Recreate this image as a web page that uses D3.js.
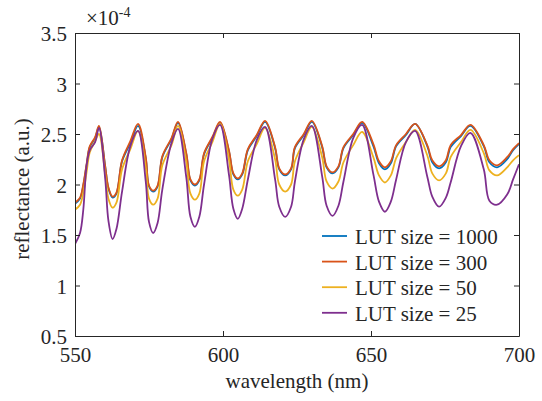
<!DOCTYPE html>
<html>
<head>
<meta charset="utf-8">
<script src="https://cdn.jsdelivr.net/npm/d3@7"></script>
<style>
  html, body { margin: 0; padding: 0; background: #fff; }
  svg { display: block; }
  text { font-family: "Liberation Serif", "Times New Roman", serif; fill: #262626; }
</style>
</head>
<body>
<svg id="chart" width="542" height="401"></svg>
<script>
// ---- data (reflectance in units of 1e-4) ----
const wavelength = [550, 551.7, 552.8, 553.9, 555, 556.8, 558.1, 560.2, 561.3, 562.7, 564.0,
  565.9, 568.7, 571.3, 573.9, 575.0, 576.4, 577.9, 579.5, 582.6, 584.8, 587.6, 589.0, 590.5, 592.0,
  593.6, 596.4, 599, 602, 603.5, 605, 606.5, 608.4, 611.4, 614.2, 617.6, 619.0, 621, 623.0,
  624.3, 627.3, 630, 633.5, 635.0, 637, 639.0, 640.7, 644, 647, 650.8, 652.7, 654.7, 656.7,
  658.5, 661.8, 664.9, 669, 670.7, 673, 675.3, 676.9, 680.4, 683.6, 688.1, 690,
  692.6, 696, 698, 700];

const lut1000 = [1.81, 1.86, 1.99, 2.19, 2.37, 2.46, 2.57, 2.18, 1.96, 1.87, 1.91,
  2.23, 2.41, 2.58, 2.26, 1.98, 1.93, 1.98, 2.27, 2.45, 2.61, 2.30, 2.04, 1.99, 2.04,
  2.30, 2.46, 2.61, 2.33, 2.10, 2.05, 2.10, 2.34, 2.48, 2.62, 2.36, 2.15, 2.09, 2.15,
  2.36, 2.49, 2.62, 2.37, 2.17, 2.11, 2.17, 2.36, 2.49, 2.61, 2.38, 2.21, 2.15, 2.21,
  2.38, 2.49, 2.60, 2.38, 2.22, 2.16, 2.22, 2.37, 2.48, 2.58, 2.38, 2.22,
  2.17, 2.25, 2.34, 2.40];

const lut300 = [1.82, 1.87, 2.00, 2.20, 2.38, 2.47, 2.58, 2.18, 1.97, 1.88, 1.92,
  2.24, 2.43, 2.60, 2.27, 1.99, 1.94, 1.99, 2.28, 2.46, 2.62, 2.31, 2.05, 2.00, 2.05,
  2.31, 2.47, 2.62, 2.34, 2.11, 2.06, 2.11, 2.35, 2.49, 2.63, 2.37, 2.16, 2.10, 2.16,
  2.37, 2.50, 2.63, 2.38, 2.18, 2.12, 2.18, 2.37, 2.50, 2.62, 2.40, 2.23, 2.17, 2.23,
  2.39, 2.50, 2.60, 2.39, 2.24, 2.18, 2.24, 2.39, 2.49, 2.59, 2.39, 2.24,
  2.19, 2.27, 2.35, 2.41];

const lut50 = [1.75, 1.80, 1.92, 2.12, 2.32, 2.43, 2.50, 2.10, 1.86, 1.77, 1.82,
  2.15, 2.35, 2.53, 2.17, 1.86, 1.80, 1.86, 2.19, 2.39, 2.58, 2.22, 1.91, 1.85, 1.91,
  2.23, 2.42, 2.60, 2.25, 1.95, 1.89, 1.95, 2.23, 2.40, 2.56, 2.25, 2.00, 1.93, 2.00,
  2.23, 2.42, 2.57, 2.27, 2.03, 1.96, 2.03, 2.22, 2.39, 2.52, 2.27, 2.09, 2.02, 2.09,
  2.26, 2.42, 2.54, 2.29, 2.11, 2.04, 2.11, 2.27, 2.42, 2.54, 2.31, 2.14,
  2.09, 2.17, 2.24, 2.29];

const lut25 = [1.41, 1.52, 1.75, 2.18, 2.34, 2.42, 2.56, 2.06, 1.64, 1.46, 1.56,
  1.93, 2.38, 2.53, 2.03, 1.63, 1.52, 1.62, 1.95, 2.41, 2.55, 2.07, 1.68, 1.58, 1.68,
  2.00, 2.45, 2.59, 2.10, 1.76, 1.66, 1.76, 2.05, 2.44, 2.57, 2.05, 1.78, 1.68, 1.78,
  2.03, 2.45, 2.58, 2.08, 1.79, 1.69, 1.79, 2.03, 2.46, 2.59, 2.10, 1.83, 1.73, 1.83,
  2.05, 2.42, 2.53, 2.08, 1.88, 1.78, 1.87, 2.02, 2.38, 2.51, 2.15, 1.84,
  1.80, 1.90, 2.05, 2.20];

const seriesNames = ["LUT size = 1000", "LUT size = 300", "LUT size = 50", "LUT size = 25"];
const seriesColors = ["#0072BD", "#D95319", "#EDB120", "#7E2F8E"];
const seriesValues = [lut1000, lut300, lut50, lut25];

const xTicks = [550, 600, 650, 700];
const yTicks = [0.5, 1, 1.5, 2, 2.5, 3, 3.5];
const yTickLabels = ["0.5", "1", "1.5", "2", "2.5", "3", "3.5"];
const exponentLabel = "-4";
const xLabel = "wavelength (nm)";
const yLabel = "reflectance (a.u.)";

// ---- layout ----
const L = 75, R = 519, T = 33, B = 336;
const svg = d3.select("#chart");
const x = d3.scaleLinear().domain([550, 700]).range([L, R]);
const y = d3.scaleLinear().domain([0.5, 3.5]).range([B, T]);
const axisColor = "#262626";
const fs = 21;

svg.append("defs").append("clipPath").attr("id", "clip")
  .append("rect").attr("x", L).attr("y", T).attr("width", R - L).attr("height", B - T);

// curves
const line = d3.line().x((d, i) => x(wavelength[i])).y(d => y(d)).curve(d3.curveCatmullRom.alpha(0.5));
const g = svg.append("g").attr("clip-path", "url(#clip)");
seriesValues.forEach((vals, k) => {
  g.append("path").datum(vals)
    .attr("d", line)
    .attr("fill", "none")
    .attr("stroke", seriesColors[k])
    .attr("stroke-width", 1.8)
    .attr("stroke-linejoin", "round");
});

// axes (box with inward ticks on all sides)
const tickLen = 5;
const axBottom = d3.axisBottom(x).tickValues(xTicks).tickSizeInner(-tickLen).tickSizeOuter(0).tickFormat(d3.format("d")).tickPadding(11);
const axTop = d3.axisTop(x).tickValues(xTicks).tickSizeInner(-tickLen).tickSizeOuter(0).tickFormat("");
const axLeft = d3.axisLeft(y).tickValues(yTicks).tickSizeInner(-tickLen).tickSizeOuter(0)
  .tickFormat((d, i) => yTickLabels[i]).tickPadding(8);
const axRight = d3.axisRight(y).tickValues(yTicks).tickSizeInner(-tickLen).tickSizeOuter(0).tickFormat("");

function styleAxis(sel) {
  sel.select(".domain").attr("stroke", axisColor).attr("stroke-width", 1);
  sel.selectAll(".tick line").attr("stroke", axisColor).attr("stroke-width", 1);
  sel.selectAll(".tick text").attr("font-size", fs).attr("fill", axisColor)
    .attr("font-family", "Liberation Serif, serif");
}
svg.append("g").attr("transform", `translate(0,${B})`).call(axBottom).call(styleAxis);
svg.append("g").attr("transform", `translate(0,${T})`).call(axTop).call(styleAxis);
const gl = svg.append("g").attr("transform", `translate(${L},0)`).call(axLeft).call(styleAxis);
gl.selectAll(".tick text").attr("dy", "0.36em");
svg.append("g").attr("transform", `translate(${R},0)`).call(axRight).call(styleAxis);

// exponent label
const ex = svg.append("text").attr("x", 86).attr("y", 25).attr("font-size", fs);
ex.append("tspan").text("\u00d710");
ex.append("tspan").attr("font-size", 14).attr("dy", -8).text(exponentLabel);

// axis labels
svg.append("text").attr("x", (L + R) / 2).attr("y", 388).attr("text-anchor", "middle")
  .attr("font-size", fs).text(xLabel);
svg.append("text").attr("transform", `translate(29,${189}) rotate(-90)`)
  .attr("text-anchor", "middle").attr("font-size", fs).text(yLabel);

// legend
const lg = svg.append("g");
seriesNames.forEach((name, k) => {
  const ly = 236 + k * 25.6;
  lg.append("line").attr("x1", 322).attr("x2", 347).attr("y1", ly).attr("y2", ly)
    .attr("stroke", seriesColors[k]).attr("stroke-width", 1.8);
  lg.append("text").attr("x", 355).attr("y", ly + 8).attr("font-size", fs).text(name);
});
</script>
</body>
</html>
